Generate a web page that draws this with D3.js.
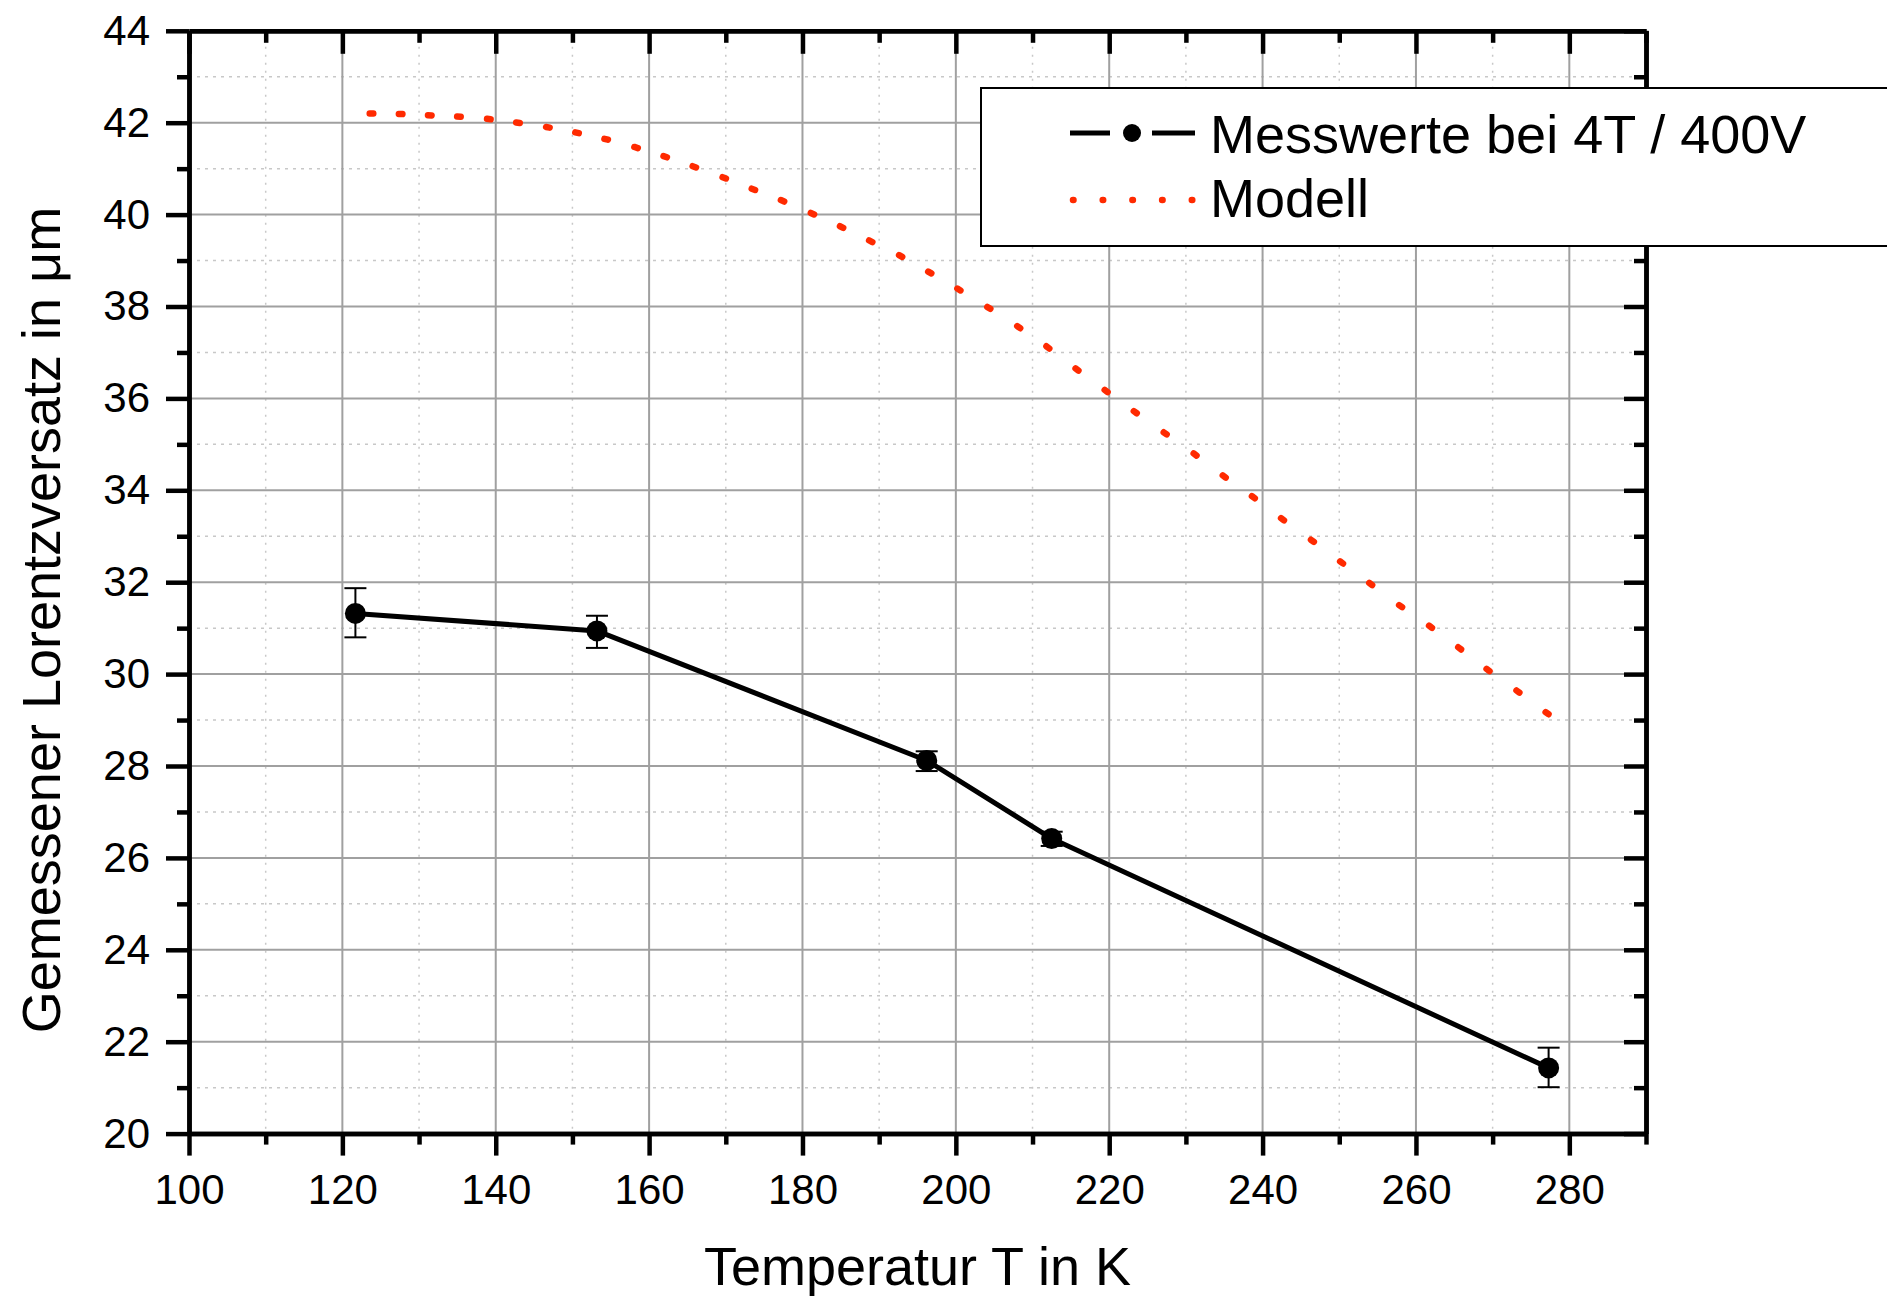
<!DOCTYPE html>
<html>
<head>
<meta charset="utf-8">
<script src="https://cdn.jsdelivr.net/npm/d3@7"></script>
<style>
    body { margin: 0; background: #fff; }
    svg { display: block; font-family: "Liberation Sans", Arial, sans-serif; }
    .axis text { font-size: 42px; fill: #000; }
    .title { font-size: 54px; fill: #000; }
    .legend-text { font-size: 54px; fill: #000; }
</style>
</head>
<body>
<div id="vis"></div>
<script>
// Lorentz offset vs. temperature: measured points with error bars and a dotted model curve

/* *************************** Data ***************************** */

// Measured values at 4T / 400V
var measT = [121.7, 153.2, 196.2, 212.5, 277.3];
var measL = [31.32, 30.94, 28.12, 26.42, 21.43];
var measLo = [30.80, 30.57, 27.89, 26.26, 21.01];
var measHi = [31.87, 31.27, 28.32, 26.57, 21.87];

// Model curve (one dot per point)
var modelT = [123.8, 127.6, 131.4, 135.2, 139.1, 142.9, 146.8, 150.6, 154.4, 158.3,
    162.1, 165.9, 169.8, 173.6, 177.4, 181.3, 185.1, 188.9, 192.8, 196.6,
    200.4, 204.3, 208.2, 212.0, 215.8, 219.6, 223.4, 227.3, 231.2, 235.0,
    238.8, 242.6, 246.5, 250.3, 254.1, 258.0, 261.9, 265.7, 269.4, 273.3, 277.1];
var modelL = [42.20, 42.19, 42.16, 42.13, 42.08, 42.00, 41.90, 41.78, 41.64, 41.46,
    41.26, 41.04, 40.80, 40.55, 40.30, 40.02, 39.73, 39.42, 39.10, 38.74,
    38.37, 37.97, 37.55, 37.11, 36.63, 36.16, 35.70, 35.24, 34.78, 34.30,
    33.85, 33.37, 32.90, 32.43, 31.96, 31.48, 31.03, 30.56, 30.09, 29.62, 29.15];

// Ticks
var xMajor = d3.range(100, 281, 20);
var xMinor = d3.range(110, 291, 20);
var yMajor = d3.range(20, 45, 2);
var yMinor = d3.range(21, 44, 2);

var legendLabels = ['Messwerte bei 4T / 400V', 'Modell'];

/* *************************** Settings ***************************** */

var width = 1887;
var height = 1298;

var margin = {
    left: 189,
    top: 30.8,
    right: 241,
    bottom: 164.4
};

var drawWidth = width - margin.left - margin.right;
var drawHeight = height - margin.top - margin.bottom;

var red = '#ff2a00';

var svg = d3.select('#vis')
    .append('svg')
    .attr('width', width)
    .attr('height', height);

var g = svg.append('g')
    .attr('transform', 'translate(' + margin.left + ',' + margin.top + ')');

var xScale = d3.scaleLinear().domain([100, 290]).range([0, drawWidth]);
var yScale = d3.scaleLinear().domain([20, 44]).range([drawHeight, 0]);

/* *************************** Grid ***************************** */

// minor grid, dotted
g.selectAll('.vminor').data(xMinor.filter(function(d) { return d < 290; }))
    .enter().append('line')
    .attr('x1', function(d) { return xScale(d); })
    .attr('x2', function(d) { return xScale(d); })
    .attr('y1', 0).attr('y2', drawHeight)
    .attr('stroke', '#c8c8c8').attr('stroke-width', 1.5)
    .attr('stroke-dasharray', '2,6');

g.selectAll('.hminor').data(yMinor)
    .enter().append('line')
    .attr('x1', 0).attr('x2', drawWidth)
    .attr('y1', function(d) { return yScale(d); })
    .attr('y2', function(d) { return yScale(d); })
    .attr('stroke', '#c8c8c8').attr('stroke-width', 1.5)
    .attr('stroke-dasharray', '3,5');

// major grid, solid
g.selectAll('.vmajor').data(xMajor.slice(1))
    .enter().append('line')
    .attr('x1', function(d) { return xScale(d); })
    .attr('x2', function(d) { return xScale(d); })
    .attr('y1', 0).attr('y2', drawHeight)
    .attr('stroke', '#a0a0a0').attr('stroke-width', 2);

g.selectAll('.hmajor').data(yMajor.slice(1, -1))
    .enter().append('line')
    .attr('x1', 0).attr('x2', drawWidth)
    .attr('y1', function(d) { return yScale(d); })
    .attr('y2', function(d) { return yScale(d); })
    .attr('stroke', '#a0a0a0').attr('stroke-width', 2);

/* *************************** Model curve ***************************** */

var model = modelT.map(function(t, i) { return { t: t, l: modelL[i] }; });

// each point is one short round-capped dash, turned along the curve
g.selectAll('.model-dot').data(model)
    .enter().append('line')
    .each(function(d, i) {
        var j = i < model.length - 1 ? i + 1 : i - 1;
        var x0 = xScale(d.t), y0 = yScale(d.l);
        var x1 = xScale(model[j].t), y1 = yScale(model[j].l);
        var len = Math.sqrt((x1 - x0) * (x1 - x0) + (y1 - y0) * (y1 - y0));
        var ux = (x1 - x0) / len * 1.8, uy = (y1 - y0) / len * 1.8;
        d3.select(this)
            .attr('x1', x0 - ux).attr('y1', y0 - uy)
            .attr('x2', x0 + ux).attr('y2', y0 + uy);
    })
    .attr('stroke', red)
    .attr('stroke-width', 6.5)
    .attr('stroke-linecap', 'round');

/* *************************** Measured data ***************************** */

var meas = measT.map(function(t, i) {
    return { t: t, l: measL[i], lo: measLo[i], hi: measHi[i] };
});

var line = d3.line()
    .x(function(d) { return xScale(d.t); })
    .y(function(d) { return yScale(d.l); });

g.append('path')
    .datum(meas)
    .attr('d', line)
    .attr('fill', 'none')
    .attr('stroke', '#000')
    .attr('stroke-width', 5)
    .attr('stroke-linejoin', 'round');

var err = g.selectAll('.err').data(meas).enter().append('g');

err.append('line')
    .attr('x1', function(d) { return xScale(d.t); })
    .attr('x2', function(d) { return xScale(d.t); })
    .attr('y1', function(d) { return yScale(d.lo); })
    .attr('y2', function(d) { return yScale(d.hi); })
    .attr('stroke', '#000').attr('stroke-width', 2);

['lo', 'hi'].forEach(function(k) {
    err.append('line')
        .attr('x1', function(d) { return xScale(d.t) - 11; })
        .attr('x2', function(d) { return xScale(d.t) + 11; })
        .attr('y1', function(d) { return yScale(d[k]); })
        .attr('y2', function(d) { return yScale(d[k]); })
        .attr('stroke', '#000').attr('stroke-width', 2);
});

g.selectAll('.pt').data(meas)
    .enter().append('circle')
    .attr('cx', function(d) { return xScale(d.t); })
    .attr('cy', function(d) { return yScale(d.l); })
    .attr('r', 10.5)
    .attr('fill', '#000');

/* *************************** Axes ***************************** */

var styleAxis = function(sel) {
    sel.select('.domain').attr('stroke', '#000').attr('stroke-width', 4.5);
    sel.selectAll('.tick line').attr('stroke', '#000').attr('stroke-width', 4.5);
};

// bottom
g.append('g').attr('class', 'axis')
    .attr('transform', 'translate(0,' + drawHeight + ')')
    .call(d3.axisBottom(xScale).tickValues(xMinor).tickSize(11).tickSizeOuter(0).tickFormat(''))
    .call(styleAxis);
g.append('g').attr('class', 'axis')
    .attr('transform', 'translate(0,' + drawHeight + ')')
    .call(d3.axisBottom(xScale).tickValues(xMajor).tickSize(22).tickSizeOuter(0).tickPadding(19))
    .call(styleAxis);

// top, ticks inward
g.append('g').attr('class', 'axis')
    .call(d3.axisTop(xScale).tickValues(xMinor).tickSize(-12).tickSizeOuter(0).tickFormat(''))
    .call(styleAxis);
g.append('g').attr('class', 'axis')
    .call(d3.axisTop(xScale).tickValues(xMajor).tickSize(-23).tickSizeOuter(0).tickFormat(''))
    .call(styleAxis);

// left
g.append('g').attr('class', 'axis')
    .call(d3.axisLeft(yScale).tickValues(yMinor).tickSize(12).tickSizeOuter(0).tickFormat(''))
    .call(styleAxis);
g.append('g').attr('class', 'axis')
    .call(d3.axisLeft(yScale).tickValues(yMajor).tickSize(23).tickSizeOuter(0).tickPadding(16))
    .call(styleAxis);

// right, ticks inward
g.append('g').attr('class', 'axis')
    .attr('transform', 'translate(' + drawWidth + ',0)')
    .call(d3.axisRight(yScale).tickValues(yMinor).tickSize(-12).tickSizeOuter(0).tickFormat(''))
    .call(styleAxis);
g.append('g').attr('class', 'axis')
    .attr('transform', 'translate(' + drawWidth + ',0)')
    .call(d3.axisRight(yScale).tickValues(yMajor).tickSize(-22).tickSizeOuter(0).tickFormat(''))
    .call(styleAxis);

g.selectAll('.axis text').attr('font-family', null);

// axis titles
svg.append('text')
    .attr('class', 'title')
    .attr('text-anchor', 'middle')
    .attr('x', margin.left + drawWidth / 2)
    .attr('y', 1285)
    .text('Temperatur T in K');

svg.append('text')
    .attr('class', 'title')
    .attr('text-anchor', 'middle')
    .attr('transform', 'translate(60,620) rotate(-90)')
    .text('Gemessener Lorentzversatz in μm');

/* *************************** Legend ***************************** */

var legend = svg.append('g').attr('transform', 'translate(981,88)');

legend.append('rect')
    .attr('x', 0).attr('y', 0)
    .attr('width', 950).attr('height', 158)
    .attr('fill', '#fff')
    .attr('stroke', '#000')
    .attr('stroke-width', 2);

legend.append('line')
    .attr('x1', 89).attr('x2', 129).attr('y1', 45).attr('y2', 45)
    .attr('stroke', '#000').attr('stroke-width', 5);
legend.append('line')
    .attr('x1', 171).attr('x2', 214).attr('y1', 45).attr('y2', 45)
    .attr('stroke', '#000').attr('stroke-width', 5);
legend.append('circle')
    .attr('cx', 151).attr('cy', 45).attr('r', 9).attr('fill', '#000');

legend.append('line')
    .attr('x1', 92).attr('x2', 212).attr('y1', 112).attr('y2', 112)
    .attr('stroke', red).attr('stroke-width', 6.5)
    .attr('stroke-linecap', 'round')
    .attr('stroke-dasharray', '0.5,29.2');

legend.selectAll('.legend-text').data(legendLabels)
    .enter().append('text')
    .attr('class', 'legend-text')
    .attr('x', 229)
    .attr('y', function(d, i) { return i === 0 ? 65 : 129; })
    .text(function(d) { return d; });
</script>
</body>
</html>
